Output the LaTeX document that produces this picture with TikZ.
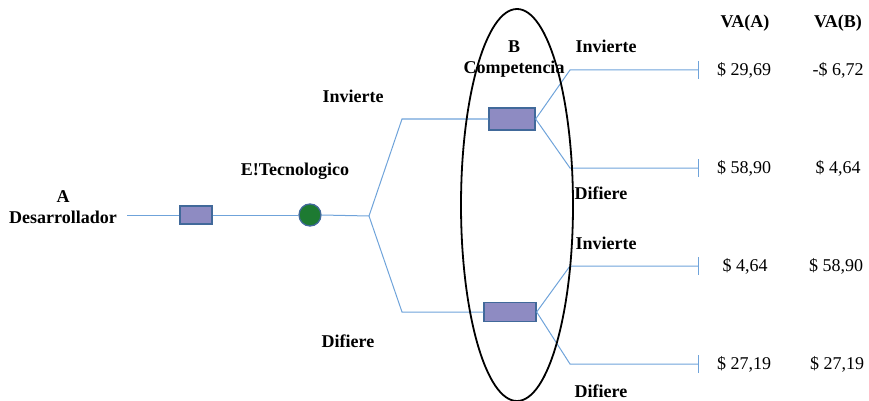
\documentclass[tikz,border=0pt]{standalone}
\usepackage{fontspec}
\setmainfont{Liberation Serif}
\usetikzlibrary{arrows.meta}
\definecolor{linea}{HTML}{6FA3DA}
\definecolor{lila}{HTML}{8E8BC2}
\definecolor{borde}{HTML}{41699A}
\definecolor{verde}{HTML}{1D7A32}

\begin{document}
\begin{tikzpicture}[x=1pt, y=-1pt, every node/.style={font=\fontsize{18}{21}\selectfont},
  decision/.style={draw=borde, fill=lila, line width=1.3pt, inner sep=0pt},
  azar/.style={draw=borde, fill=verde, line width=1.3pt, circle, minimum size=22pt, inner sep=0pt},
  rama/.style={draw=linea, line width=1pt},
  fin/.style={rama, -{Bar[width=18pt, line width=1pt]}},
  txt/.style={font=\fontsize{18}{21}\selectfont\bfseries, align=center}]
\useasboundingbox (0,0) rectangle (869,401);
\node[txt] (A) at (63,207) {A\\Desarrollador};
\node[decision, minimum width=32pt, minimum height=18pt] (D1) at (196,215) {};
\node[azar] (C1) at (310,215) {};
\node[txt] (ET) at (295,171) {E!Tecnologico};
\coordinate (A0) at (127,215);
\coordinate (R1) at (369,216);
\coordinate (R1a) at (402,119);
\coordinate (R1b) at (402,312);
\node[txt] (I0) at (353,96) {Invierte};
\node[txt] (F0) at (348,341) {Difiere};
\node[decision, minimum width=46pt, minimum height=22pt] (B1) at (512,119) {};
\node[decision, minimum width=52pt, minimum height=19pt] (B2) at (510,312) {};
\coordinate (B1a) at (570,70);
\coordinate (B1b) at (570,168);
\coordinate (B2a) at (570,266);
\coordinate (B2b) at (570,364);
\coordinate (E1) at (699,70);
\coordinate (E2) at (699,168);
\coordinate (E3) at (699,266);
\coordinate (E4) at (699,364);
\node[txt] (B) at (514,59) {B\\Competencia};
\node[txt] (I1) at (606,46) {Invierte};
\node[txt] (F1) at (601,193) {Difiere};
\node[txt] (I2) at (606,243) {Invierte};
\node[txt] (F2) at (601,391) {Difiere};
\node[txt] (VA) at (745,23) {VA(A)};
\node[txt] (VB) at (838,23) {VA(B)};
\node (V1a) at (744,70) {\$ 29,69};
\node (V1b) at (838,70) {-\$ 6,72};
\node (V2a) at (744,168) {\$ 58,90};
\node (V2b) at (838,168) {\$ 4,64};
\node (V3a) at (745,266) {\$ 4,64};
\node (V3b) at (836,266) {\$ 58,90};
\node (V4a) at (744,364) {\$ 27,19};
\node (V4b) at (837,364) {\$ 27,19};
\draw[rama] (A0) -- (D1.west);
\draw[rama] (D1.east) -- (C1.west);
\draw[rama] (C1.east) -- (R1);
\draw[rama] (R1) -- (R1a) -- (B1.west);
\draw[rama] (R1) -- (R1b) -- (B2.west);
\draw[fin] (B1.east) -- (B1a) -- (E1);
\draw[fin] (B1.east) -- (B1b) -- (E2);
\draw[fin] (B2.east) -- (B2a) -- (E3);
\draw[fin] (B2.east) -- (B2b) -- (E4);
% grupo del jugador B
\draw[line width=1.8pt] (517,205) ellipse (56 and 196);
\end{tikzpicture}
\end{document}
